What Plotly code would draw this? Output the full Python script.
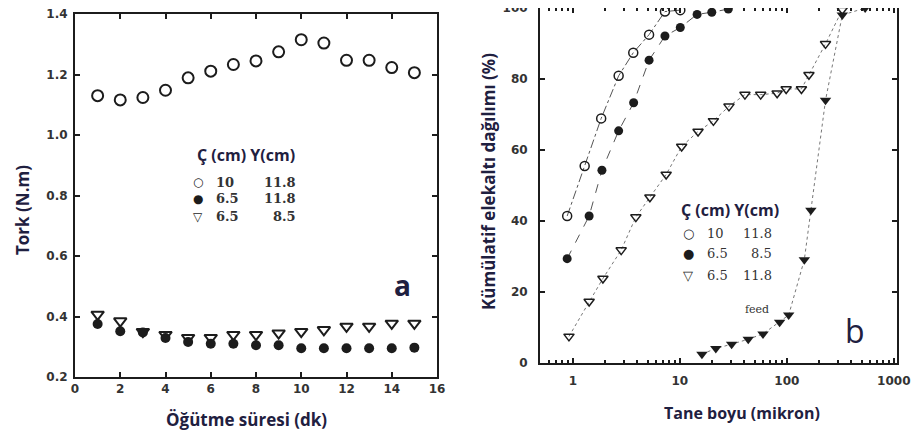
import plotly.graph_objects as go

# ---------- Panel a data ----------
time_min = [1, 2, 3, 4, 5, 6, 7, 8, 9, 10, 11, 12, 13, 14, 15]
torque_c10_y118 = [1.13, 1.116, 1.124, 1.148, 1.189, 1.211, 1.233, 1.245, 1.275, 1.315, 1.304, 1.247, 1.247, 1.223, 1.206]
torque_c65_y118 = [0.375, 0.351, 0.347, 0.329, 0.316, 0.31, 0.31, 0.305, 0.305, 0.295, 0.295, 0.295, 0.295, 0.295, 0.297]
torque_c65_y85 = [0.407, 0.385, 0.35, 0.34, 0.33, 0.33, 0.34, 0.34, 0.345, 0.35, 0.356, 0.367, 0.367, 0.377, 0.377]

# ---------- Panel b data ----------
size_c10 = [0.885, 1.29, 1.84, 2.68, 3.67, 5.16, 7.26, 10.1]
cum_c10 = [41.4, 55.5, 68.9, 80.9, 87.4, 92.5, 99.0, 99.4]
size_c65_y85 = [0.885, 1.42, 1.87, 2.68, 3.70, 5.16, 7.26, 10.1, 14.5, 19.9, 28.4]
cum_c65_y85 = [29.4, 41.4, 54.3, 65.4, 73.3, 85.3, 92.1, 94.5, 98.2, 98.8, 99.7]
size_c65_y118 = [0.92, 1.42, 1.91, 2.83, 3.88, 5.25, 7.45, 10.4, 14.8, 20.6, 28.8, 40.6, 57, 81.2, 98.6, 137, 161, 230, 330]
cum_c65_y118 = [7.5, 17.3, 23.8, 31.8, 41.1, 46.7, 53.1, 61.0, 65.2, 68.2, 72.3, 75.6, 75.6, 76.0, 77.2, 77.2, 81.2, 89.9, 99.5]
size_feed = [16.1, 21.7, 30.5, 43.6, 59.9, 85.7, 104.1, 145.8, 167.8, 230, 330, 540]
cum_feed = [2.5, 4.1, 5.3, 6.7, 8.2, 11.5, 13.5, 29.1, 43.0, 74.0, 98.0, 100.0]

xticks_a = [0, 2, 4, 6, 8, 10, 12, 14, 16]
yticks_a = [0.2, 0.4, 0.6, 0.8, 1.0, 1.2, 1.4]
yticks_b = [0, 20, 40, 60, 80, 100]
xticks_b = [1, 10, 100, 1000]

# the page places the figure 8 px from the window's top-left corner
OFF = 8
W, H = 919 - OFF, 438 - OFF
def px(x):
    return (x - OFF) / W
def py(y):
    return min(1.0, 1 - (y - OFF) / H)

INK = "#1c1c1c"
TXT = "#1f2040"
tickfont = dict(family="DejaVu Sans", size=12, color="#333333", weight="bold")

fig = go.Figure()

# Panel a
fig.add_trace(go.Scatter(x=time_min, y=torque_c10_y118, mode="markers", xaxis="x", yaxis="y",
                         marker=dict(symbol="circle-open", size=11, color=INK, line=dict(width=2, color=INK))))
fig.add_trace(go.Scatter(x=time_min, y=torque_c65_y85, mode="markers", xaxis="x", yaxis="y",
                         marker=dict(symbol="triangle-down-open", size=11, color=INK, line=dict(width=2, color=INK))))
fig.add_trace(go.Scatter(x=time_min, y=torque_c65_y118, mode="markers", xaxis="x", yaxis="y",
                         marker=dict(symbol="circle", size=10, color=INK)))

# Panel b
fig.add_trace(go.Scatter(x=size_c10, y=cum_c10, mode="lines+markers", xaxis="x2", yaxis="y2",
                         line=dict(color="#555", width=1, dash="dashdot"),
                         marker=dict(symbol="circle-open", size=9, color=INK, line=dict(width=1.5, color=INK))))
fig.add_trace(go.Scatter(x=size_c65_y85, y=cum_c65_y85, mode="lines+markers", xaxis="x2", yaxis="y2",
                         line=dict(color="#555", width=1, dash="dash"),
                         marker=dict(symbol="circle", size=9, color=INK)))
fig.add_trace(go.Scatter(x=size_c65_y118, y=cum_c65_y118, mode="lines+markers", xaxis="x2", yaxis="y2",
                         line=dict(color="#777", width=1, dash="dot"),
                         marker=dict(symbol="triangle-down-open", size=9, color=INK, line=dict(width=1.5, color=INK))))
fig.add_trace(go.Scatter(x=size_feed, y=cum_feed, mode="lines+markers", xaxis="x2", yaxis="y2",
                         line=dict(color="#777", width=1, dash="dot"),
                         marker=dict(symbol="triangle-down", size=10, color=INK)))

axis_common = dict(showline=True, linecolor=INK, linewidth=2, mirror="ticks", ticks="inside",
                   tickcolor=INK, tickwidth=1.5, ticklen=5, showgrid=False, zeroline=False,
                   tickfont=tickfont, ticklabeloverflow="allow")

fig.update_layout(
    width=W, height=H, margin=dict(l=0, r=0, t=0, b=0, autoexpand=False),
    paper_bgcolor="white", plot_bgcolor="white", showlegend=False,
    xaxis=dict(domain=[px(75), px(437)], range=[0, 16], tickvals=xticks_a, anchor="y", **axis_common),
    yaxis=dict(domain=[py(377), py(14)], range=[0.2, 1.4], tickvals=yticks_a, tickformat=".1f", anchor="x",
               ticklabelstandoff=3, **axis_common),
    xaxis2=dict(domain=[px(540), px(897)], type="log", range=[-0.307, 3.03], tickvals=xticks_b,
                ticktext=["1", "10", "100", "1000"], anchor="y2", ticklabelstandoff=6,
                minor=dict(ticks="inside", ticklen=3, tickcolor=INK, dtick="D1"), **axis_common),
    yaxis2=dict(domain=[py(363), py(3)], range=[0, 100], tickvals=yticks_b, anchor="x2",
                ticklabelstandoff=8, **axis_common),
)

def ann(x, y, text, size, weight="normal", color=TXT, family="Open Sans", angle=0, xanchor="center"):
    fig.add_annotation(x=px(x), y=py(y), xref="paper", yref="paper", text=text, showarrow=False,
                       font=dict(family=family, size=size, color=color, weight=weight),
                       textangle=angle, xanchor=xanchor, yanchor="middle")

# Axis titles
ann(22, 210, "Tork (N.m)", 17, "bold", angle=-90)
ann(246, 419, "Öğütme süresi (dk)", 17, "bold")
ann(488, 182, "Kümülatif elekaltı dağılımı (%)", 17, "bold", angle=-90)
ann(742, 413, "Tane boyu (mikron)", 16, "bold")

# Panel a legend
ann(246, 155, "Ç (cm) Y(cm)", 16, "bold")
rows_a = [("○", "10", "11.8"), ("●", "6.5", "11.8"), ("▽", "6.5", "8.5")]
ys_a = [182, 199, 217]
for (sym, c, yv), yy in zip(rows_a, ys_a):
    ann(198, yy, sym, 12, color=INK, family="DejaVu Sans")
    ann(214, yy, c, 13, "bold", color="#333", family="DejaVu Serif", xanchor="left")
    ann(298, yy, yv, 13, "bold", color="#333", family="DejaVu Serif", xanchor="right")
ann(402, 285, "a", 28, "bold")

# Panel b legend
ann(730, 210, "Ç (cm) Y(cm)", 16, "bold")
rows_b = [("○", "10", "11.8"), ("●", "6.5", "8.5"), ("▽", "6.5", "11.8")]
ys_b = [233, 254, 275]
for (sym, c, yv), yy in zip(rows_b, ys_b):
    ann(688, yy, sym, 13, color=INK, family="DejaVu Sans")
    ann(705, yy, c, 13, color="#333", family="DejaVu Serif", xanchor="left")
    ann(774, yy, yv, 13, color="#333", family="DejaVu Serif", xanchor="right")
ann(757, 309, "feed", 11, color="#333", family="DejaVu Serif")
ann(855, 330, "b", 32)

fig.write_html("out.html")
